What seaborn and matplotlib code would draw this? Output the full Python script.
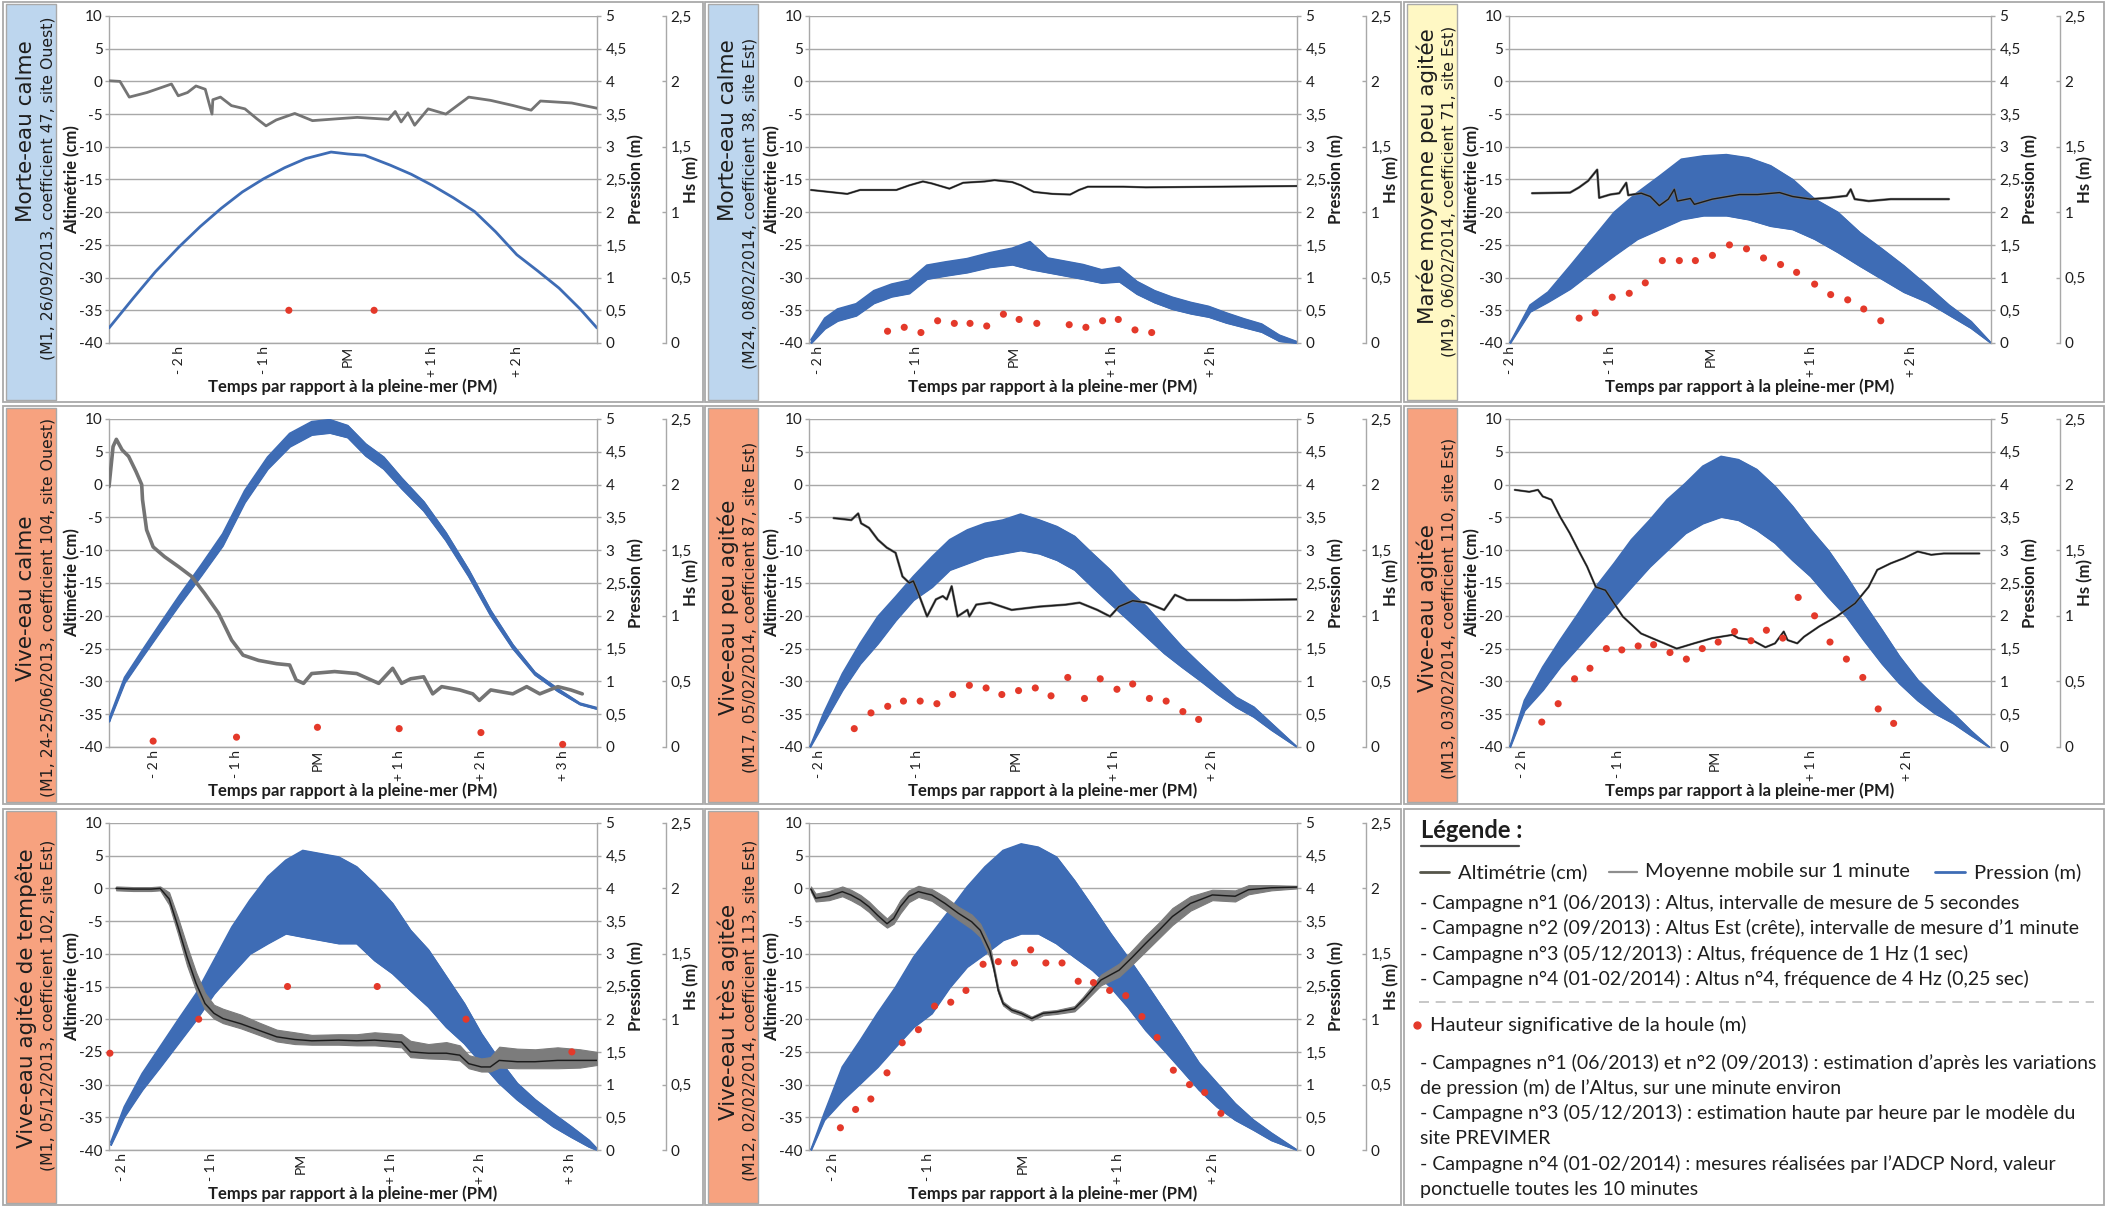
import matplotlib
matplotlib.use("Agg")
import matplotlib.pyplot as plt
import seaborn as sns
from matplotlib.ticker import FuncFormatter
from matplotlib.patches import Rectangle
from matplotlib.lines import Line2D

# ------------------------------------------------------------------ data
# time axis: hours relative to high tide (PM); Pression in m, Altimetrie in cm, Hs in m
HOUR_LABELS = {-2: "- 2 h", -1: "- 1 h", 0: "PM", 1: "+ 1 h", 2: "+ 2 h", 3: "+ 3 h"}

# Panel 1 : Morte-eau calme (M1, 26/09/2013)
P1_XLIM = (-2.83, 2.95)
P1_HOURS = [-2, -1, 0, 1, 2]
P1_PRES_T = [-2.83, -2.54, -2.28, -2.00, -1.75, -1.50, -1.25, -1.00, -0.75, -0.50, -0.20, 0.00,
             0.20, 0.50, 0.75, 1.00, 1.25, 1.50, 1.75, 2.00, 2.25, 2.50, 2.75, 2.95]
P1_PRES = [0.23, 0.69, 1.09, 1.47, 1.78, 2.06, 2.31, 2.51, 2.68, 2.82, 2.92, 2.89,
           2.87, 2.72, 2.58, 2.41, 2.22, 2.01, 1.70, 1.35, 1.10, 0.84, 0.52, 0.23]
P1_ALT_T = [-2.83, -2.70, -2.59, -2.38, -2.09, -2.01, -1.90, -1.80, -1.69, -1.61, -1.60, -1.51,
            -1.38, -1.22, -1.08, -0.97, -0.85, -0.63, -0.42, -0.11, 0.11, 0.48, 0.56, 0.63,
            0.71, 0.79, 0.95, 1.16, 1.43, 1.69, 1.96, 2.17, 2.28, 2.65, 2.95]
P1_ALT = [0.1, 0.0, -2.4, -1.7, -0.4, -2.2, -1.7, -0.7, -1.2, -5.0, -2.8, -2.4,
          -3.7, -4.2, -5.7, -6.8, -5.9, -4.9, -6.0, -5.7, -5.5, -5.8, -4.6, -6.2,
          -4.8, -6.7, -4.2, -5.0, -2.4, -2.9, -3.7, -4.4, -3.0, -3.3, -4.1]
P1_HS_T = [-0.70, 0.31]
P1_HS = [0.25, 0.25]

# Panel 2 : Morte-eau calme (M24, 08/02/2014)
P2_XLIM = (-2.09, 2.88)
P2_HOURS = [-2, -1, 0, 1, 2]
P2_PRES_T = [-2.07, -1.93, -1.80, -1.61, -1.43, -1.25, -1.07, -0.89, -0.70, -0.48, -0.25, -0.02, 0.16, 0.34,
             0.52, 0.70, 0.89, 1.07, 1.25, 1.43, 1.61, 1.80, 1.98, 2.16, 2.34, 2.52, 2.70, 2.88]
P2_PRES_LO = [0.0, 0.22, 0.34, 0.42, 0.61, 0.71, 0.76, 0.98, 1.03, 1.08, 1.16, 1.20, 1.13, 1.08,
              1.03, 0.98, 0.92, 0.94, 0.75, 0.62, 0.52, 0.45, 0.40, 0.31, 0.24, 0.17, 0.03, 0.0]
P2_PRES_HI = [0.05, 0.38, 0.52, 0.60, 0.80, 0.90, 0.96, 1.19, 1.24, 1.29, 1.38, 1.45, 1.55, 1.30,
              1.25, 1.20, 1.12, 1.16, 0.94, 0.80, 0.70, 0.62, 0.56, 0.46, 0.37, 0.29, 0.12, 0.02]
P2_ALT_T = [-2.07, -1.70, -1.57, -1.20, -1.07, -0.93, -0.84, -0.66, -0.52, -0.30, -0.20, -0.02, 0.07,
            0.20, 0.39, 0.57, 0.66, 0.75, 1.11, 1.34, 2.88]
P2_ALT = [-16.6, -17.2, -16.6, -16.6, -15.9, -15.3, -15.6, -16.4, -15.5, -15.3, -15.1, -15.4, -15.9,
          -16.9, -17.2, -17.3, -16.6, -16.1, -16.1, -16.2, -16.0]
P2_HS_T = [-1.29, -1.12, -0.95, -0.78, -0.61, -0.45, -0.28, -0.11, 0.05, 0.23, 0.56, 0.73, 0.90, 1.06, 1.23, 1.40]
P2_HS = [0.09, 0.12, 0.08, 0.17, 0.15, 0.15, 0.13, 0.22, 0.18, 0.15, 0.14, 0.12, 0.17, 0.18, 0.10, 0.08]

# Panel 3 : Maree moyenne peu agitee (M19, 06/02/2014)
P3_XLIM = (-2.01, 2.80)
P3_HOURS = [-2, -1, 0, 1, 2]
P3_PRES_T = [-2.00, -1.80, -1.62, -1.40, -1.18, -0.96, -0.73, -0.51, -0.29, -0.07, 0.16, 0.38,
             0.60, 0.82, 1.04, 1.27, 1.49, 1.71, 1.93, 2.16, 2.38, 2.60, 2.80]
P3_PRES_HI = [0.0, 0.58, 0.78, 1.18, 1.59, 2.00, 2.30, 2.55, 2.81, 2.86, 2.88, 2.83,
              2.71, 2.50, 2.20, 2.00, 1.69, 1.44, 1.18, 0.88, 0.58, 0.33, 0.0]
P3_PRES_LO = [0.0, 0.48, 0.63, 0.83, 1.09, 1.34, 1.59, 1.74, 1.89, 1.95, 1.95, 1.89,
              1.79, 1.74, 1.59, 1.39, 1.18, 0.98, 0.78, 0.63, 0.43, 0.23, 0.0]
P3_ALT_T = [-1.78, -1.40, -1.31, -1.22, -1.13, -1.11, -1.00, -0.91, -0.84, -0.82, -0.69, -0.60, -0.51,
            -0.42, -0.36, -0.33, -0.20, -0.16, 0.02, 0.29, 0.47, 0.69, 0.82, 1.00, 1.18, 1.36, 1.40,
            1.44, 1.58, 1.80, 2.02, 2.38]
P3_ALT = [-17.1, -17.0, -16.2, -15.2, -13.5, -17.8, -17.3, -17.1, -15.5, -17.4, -17.1, -17.6, -19.0,
          -18.0, -16.5, -18.3, -17.9, -18.8, -18.0, -17.3, -17.3, -17.0, -17.6, -18.0, -17.8, -17.5, -16.5,
          -18.0, -18.3, -18.0, -18.0, -18.0]
P3_HS_T = [-1.31, -1.15, -0.98, -0.81, -0.65, -0.48, -0.31, -0.15, 0.02, 0.19, 0.36, 0.53, 0.70, 0.86,
           1.04, 1.20, 1.37, 1.53, 1.70]
P3_HS = [0.19, 0.23, 0.35, 0.38, 0.46, 0.63, 0.63, 0.63, 0.67, 0.75, 0.72, 0.65, 0.60, 0.54,
         0.45, 0.37, 0.33, 0.26, 0.17]

# Panel 4 : Vive-eau calme (M1, 24-25/06/2013)
P4_XLIM = (-2.55, 3.42)
P4_HOURS = [-2, -1, 0, 1, 2, 3]
P4_PRES_T = [-2.55, -2.36, -2.14, -1.92, -1.69, -1.42, -1.16, -0.89, -0.61, -0.34, -0.07, 0.15, 0.37,
             0.59, 0.81, 1.03, 1.30, 1.57, 1.85, 2.12, 2.39, 2.66, 2.94, 3.21, 3.42]
P4_PRES_LO = [0.39, 0.98, 1.38, 1.77, 2.17, 2.62, 3.07, 3.73, 4.24, 4.58, 4.76, 4.79, 4.72,
              4.44, 4.24, 3.94, 3.60, 3.15, 2.60, 2.00, 1.50, 1.10, 0.85, 0.65, 0.58]
P4_PRES_HI = [0.43, 1.06, 1.48, 1.89, 2.31, 2.78, 3.25, 3.91, 4.42, 4.78, 4.96, 4.99, 4.90,
              4.62, 4.42, 4.10, 3.74, 3.27, 2.70, 2.08, 1.56, 1.14, 0.89, 0.67, 0.60]
P4_ALT_T = [-2.55, -2.50, -2.46, -2.39, -2.31, -2.22, -2.15, -2.14, -2.09, -2.01, -1.87, -1.70, -1.54,
            -1.38, -1.21, -1.05, -0.91, -0.72, -0.50, -0.34, -0.26, -0.17, -0.07, 0.21, 0.48, 0.75,
            0.92, 1.03, 1.14, 1.30, 1.41, 1.52, 1.74, 1.90, 1.98, 2.12, 2.39, 2.56, 2.72, 2.94, 3.10, 3.24]
P4_ALT = [-0.3, 5.8, 6.9, 5.3, 4.3, 2.0, 0.0, -2.3, -6.9, -9.5, -11.0, -12.5, -14.0,
          -16.6, -19.6, -23.7, -26.0, -26.8, -27.3, -27.5, -29.8, -30.3, -28.8, -28.5, -28.8, -30.3,
          -28.0, -30.3, -29.6, -29.3, -31.9, -30.8, -31.3, -31.9, -32.9, -31.3, -31.9, -30.8, -31.9, -30.8, -31.3, -31.9]
P4_HS_T = [-2.01, -0.99, 0.0, 1.0, 2.0, 3.0]
P4_HS = [0.045, 0.075, 0.15, 0.14, 0.11, 0.02]

# Panel 5 : Vive-eau peu agitee (M17, 05/02/2014)
P5_XLIM = (-2.10, 2.86)
P5_HOURS = [-2, -1, 0, 1, 2]
P5_PRES_T = [-2.09, -1.95, -1.76, -1.58, -1.40, -1.22, -1.04, -0.85, -0.67, -0.49, -0.31, -0.13, 0.05, 0.24,
             0.42, 0.60, 0.78, 0.96, 1.15, 1.33, 1.51, 1.69, 1.87, 2.05, 2.24, 2.42, 2.60, 2.86]
P5_PRES_HI = [0.0, 0.52, 1.12, 1.58, 1.99, 2.29, 2.60, 2.90, 3.16, 3.31, 3.41, 3.46, 3.55, 3.46,
              3.36, 3.21, 2.95, 2.70, 2.39, 2.14, 1.83, 1.53, 1.27, 1.02, 0.76, 0.61, 0.36, 0.0]
P5_PRES_LO = [0.0, 0.37, 0.87, 1.27, 1.58, 1.93, 2.24, 2.44, 2.70, 2.80, 2.90, 2.95, 3.00, 2.95,
              2.85, 2.70, 2.44, 2.19, 1.93, 1.68, 1.43, 1.22, 1.02, 0.81, 0.61, 0.46, 0.26, 0.0]
P5_ALT_T = [-1.85, -1.67, -1.60, -1.57, -1.49, -1.40, -1.31, -1.22, -1.15, -1.08, -1.04, -0.99, -0.90,
            -0.81, -0.74, -0.70, -0.65, -0.59, -0.49, -0.47, -0.40, -0.26, -0.04, 0.24, 0.51, 0.65,
            0.83, 0.96, 1.05, 1.19, 1.33, 1.51, 1.62, 1.74, 2.24, 2.86]
P5_ALT = [-5.1, -5.4, -4.4, -5.9, -6.6, -8.4, -9.6, -10.4, -14.0, -15.0, -14.7, -16.5, -20.1,
          -17.5, -17.0, -17.5, -15.5, -20.1, -19.1, -20.1, -18.3, -18.0, -19.1, -18.6, -18.3, -18.0,
          -19.1, -20.1, -18.6, -17.7, -18.0, -19.1, -16.8, -17.6, -17.6, -17.5]
P5_HS_T = [-1.64, -1.47, -1.30, -1.14, -0.97, -0.80, -0.64, -0.47, -0.30, -0.14, 0.03, 0.20, 0.36, 0.53,
           0.70, 0.86, 1.03, 1.19, 1.36, 1.53, 1.70, 1.86]
P5_HS = [0.14, 0.26, 0.31, 0.35, 0.35, 0.33, 0.40, 0.47, 0.45, 0.40, 0.43, 0.45, 0.39, 0.53,
         0.37, 0.52, 0.44, 0.48, 0.37, 0.35, 0.27, 0.21]

# Panel 6 : Vive-eau agitee (M13, 03/02/2014)
P6_XLIM = (-2.13, 2.87)
P6_HOURS = [-2, -1, 0, 1, 2]
P6_PRES_T = [-2.12, -1.97, -1.78, -1.60, -1.41, -1.23, -1.04, -0.86, -0.67, -0.49, -0.30, -0.12, 0.07, 0.25,
             0.44, 0.63, 0.81, 1.00, 1.18, 1.37, 1.55, 1.74, 1.92, 2.11, 2.29, 2.48, 2.66, 2.85]
P6_PRES_HI = [0.0, 0.71, 1.22, 1.63, 2.04, 2.44, 2.80, 3.16, 3.46, 3.77, 4.02, 4.28, 4.43, 4.38,
              4.23, 3.97, 3.67, 3.31, 3.00, 2.60, 2.19, 1.78, 1.38, 1.02, 0.76, 0.51, 0.25, 0.0]
P6_PRES_LO = [0.0, 0.56, 0.87, 1.22, 1.53, 1.83, 2.14, 2.44, 2.75, 3.00, 3.26, 3.41, 3.51, 3.46,
              3.31, 3.11, 2.85, 2.60, 2.29, 1.99, 1.63, 1.27, 0.97, 0.71, 0.51, 0.36, 0.18, 0.0]
P6_ALT_T = [-2.07, -1.92, -1.83, -1.78, -1.69, -1.60, -1.50, -1.41, -1.32, -1.23, -1.13, -1.04, -0.95,
            -0.76, -0.39, -0.21, -0.02, 0.19, 0.25, 0.39, 0.53, 0.63, 0.72, 0.76, 0.86, 0.93, 1.09,
            1.27, 1.46, 1.60, 1.69, 1.83, 1.97, 2.11, 2.25, 2.38, 2.75]
P6_ALT = [-0.8, -1.1, -0.8, -1.8, -2.3, -4.9, -7.4, -10.0, -12.5, -15.6, -16.1, -18.1, -20.1,
          -22.7, -25.0, -24.2, -23.4, -22.9, -23.4, -23.7, -24.8, -24.2, -22.4, -23.7, -24.2, -23.2, -21.6,
          -20.1, -18.1, -15.6, -13.0, -12.0, -11.2, -10.2, -10.7, -10.5, -10.5]
P6_HS_T = [-1.79, -1.62, -1.45, -1.29, -1.12, -0.96, -0.79, -0.63, -0.46, -0.29, -0.125, 0.04, 0.21, 0.38,
           0.54, 0.71, 0.87, 1.04, 1.20, 1.37, 1.54, 1.70, 1.86]
P6_HS = [0.19, 0.33, 0.52, 0.60, 0.75, 0.74, 0.77, 0.78, 0.72, 0.67, 0.75, 0.80, 0.88, 0.81,
         0.89, 0.83, 1.14, 1.00, 0.80, 0.67, 0.53, 0.29, 0.18]

# Panel 7 : Vive-eau agitee de tempete (M1, 05/12/2013)
P7_XLIM = (-2.14, 3.30)
P7_HOURS = [-2, -1, 0, 1, 2, 3]
P7_PRES_T = [-2.12, -1.97, -1.77, -1.57, -1.37, -1.17, -0.97, -0.77, -0.57, -0.37, -0.17, 0.02, 0.22, 0.42,
             0.62, 0.82, 1.02, 1.22, 1.42, 1.62, 1.82, 2.01, 2.21, 2.41, 2.61, 2.81, 3.01, 3.21, 3.30]
P7_PRES_HI = [0.12, 0.66, 1.17, 1.58, 1.99, 2.39, 2.90, 3.41, 3.82, 4.18, 4.43, 4.58, 4.53, 4.48,
              4.33, 4.07, 3.77, 3.36, 3.06, 2.65, 2.24, 1.78, 1.38, 1.02, 0.77, 0.56, 0.36, 0.15, 0.02]
P7_PRES_LO = [0.08, 0.51, 0.92, 1.27, 1.63, 1.99, 2.39, 2.70, 3.00, 3.16, 3.31, 3.26, 3.21, 3.16,
              3.16, 2.90, 2.70, 2.44, 2.19, 1.88, 1.63, 1.33, 1.02, 0.77, 0.56, 0.36, 0.20, 0.05, 0.0]
P7_ALT_T = [-2.06, -1.87, -1.67, -1.57, -1.47, -1.37, -1.27, -1.17, -1.07, -0.97, -0.87, -0.67, -0.47,
            -0.27, -0.07, 0.12, 0.42, 0.62, 0.82, 1.12, 1.22, 1.42, 1.62, 1.77, 1.87, 2.01, 2.11, 2.21,
            2.41, 2.61, 2.86, 3.11, 3.30]
P7_ALT = [0.0, -0.1, -0.1, 0.0, -1.6, -5.9, -10.5, -14.5, -17.6, -19.1, -19.9, -20.7, -21.7,
          -22.7, -23.1, -23.3, -23.2, -23.3, -23.2, -23.5, -25.0, -25.2, -25.2, -25.5, -26.8, -27.3, -27.3, -26.3,
          -26.5, -26.5, -26.3, -26.3, -26.3]
P7_ALT_HI = [0.3, 0.2, 0.2, 0.3, -0.6, -4.5, -8.8, -12.8, -16.0, -17.8, -18.4, -19.3, -20.5,
             -21.6, -22.0, -22.4, -22.3, -22.3, -22.0, -22.3, -23.3, -23.8, -23.5, -24.0, -25.5, -26.0, -25.8, -24.2,
             -24.5, -24.6, -24.3, -24.6, -25.0]
P7_ALT_LO = [-0.3, -0.4, -0.4, -0.3, -2.5, -7.0, -11.8, -15.6, -18.5, -19.9, -20.6, -21.4, -22.4,
             -23.4, -23.8, -23.9, -23.9, -24.0, -24.0, -24.3, -25.8, -26.0, -26.1, -26.3, -27.5, -28.0, -28.0, -27.4,
             -27.5, -27.5, -27.5, -27.4, -27.0]
P7_HS_T = [-2.13, -1.14, -0.15, 0.85, 1.84, 3.02]
P7_HS = [0.74, 1.0, 1.25, 1.25, 1.0, 0.75]

# Panel 8 : Vive-eau tres agitee (M12, 02/02/2014)
P8_XLIM = (-2.25, 2.88)
P8_HOURS = [-2, -1, 0, 1, 2]
P8_PRES_T = [-2.23, -2.09, -1.90, -1.71, -1.53, -1.34, -1.15, -0.96, -0.77, -0.59, -0.40, -0.21, -0.02, 0.16,
             0.35, 0.54, 0.73, 0.92, 1.10, 1.29, 1.48, 1.67, 1.85, 2.04, 2.23, 2.42, 2.61, 2.88]
P8_PRES_HI = [0.0, 0.56, 1.27, 1.68, 2.09, 2.49, 2.95, 3.31, 3.67, 4.02, 4.33, 4.58, 4.68, 4.63,
              4.48, 4.12, 3.72, 3.31, 2.95, 2.55, 2.14, 1.73, 1.33, 1.02, 0.71, 0.46, 0.26, 0.0]
P8_PRES_LO = [0.0, 0.46, 0.76, 1.02, 1.27, 1.58, 1.88, 2.09, 2.49, 2.80, 3.00, 3.21, 3.31, 3.31,
              3.16, 2.95, 2.75, 2.49, 2.19, 1.83, 1.53, 1.22, 0.92, 0.66, 0.46, 0.31, 0.15, 0.0]
P8_ALT_T = [-2.23, -2.18, -2.04, -1.90, -1.81, -1.71, -1.62, -1.53, -1.43, -1.36, -1.29, -1.20, -1.10,
            -0.96, -0.82, -0.68, -0.54, -0.45, -0.35, -0.31, -0.26, -0.21, -0.12, -0.02, 0.09, 0.21,
            0.35, 0.54, 0.63, 0.82, 1.01, 1.15, 1.29, 1.43, 1.57, 1.76, 1.99, 2.23, 2.37, 2.61, 2.88]
P8_ALT = [-0.1, -1.5, -1.2, -0.5, -1.0, -1.8, -2.8, -4.1, -5.4, -4.6, -2.8, -1.2, -0.5,
          -1.0, -2.3, -3.8, -5.1, -6.4, -9.5, -12.0, -15.6, -17.6, -18.6, -19.1, -19.9, -19.1,
          -18.9, -18.4, -17.1, -14.0, -12.5, -10.5, -8.4, -6.4, -4.3, -2.3, -1.0, -1.2, -0.2, 0.1, 0.2]
P8_ALT_HI = [0.3, -0.8, -0.4, 0.3, -0.2, -1.0, -2.0, -3.3, -4.6, -3.6, -1.8, -0.3, 0.4,
             -0.1, -1.3, -2.8, -4.0, -5.4, -8.5, -11.5, -15.2, -17.3, -18.3, -18.8, -19.6, -18.8,
             -18.6, -18.0, -16.6, -13.2, -11.5, -9.4, -7.2, -5.2, -3.0, -1.2, -0.2, -0.3, 0.5, 0.5, 0.4]
P8_ALT_LO = [-0.5, -2.0, -1.8, -1.2, -1.8, -2.6, -3.6, -4.9, -6.0, -5.4, -3.8, -2.1, -1.3,
             -1.9, -3.3, -4.8, -6.2, -7.4, -10.5, -12.5, -16.0, -17.9, -18.9, -19.4, -20.2, -19.4,
             -19.2, -18.8, -17.6, -14.8, -13.5, -11.6, -9.6, -7.6, -5.6, -3.4, -1.8, -2.0, -0.9, -0.3, 0.0]
P8_HS_T = [-1.92, -1.76, -1.60, -1.43, -1.27, -1.10, -0.93, -0.76, -0.60, -0.42, -0.26, -0.09, 0.08, 0.24,
           0.41, 0.58, 0.74, 0.91, 1.08, 1.25, 1.41, 1.58, 1.75, 1.91, 2.08]
P8_HS = [0.17, 0.31, 0.39, 0.59, 0.82, 0.92, 1.10, 1.13, 1.22, 1.42, 1.44, 1.43, 1.53, 1.43,
         1.43, 1.29, 1.28, 1.22, 1.18, 1.02, 0.86, 0.61, 0.50, 0.44, 0.28]

TITLES = ["Morte-eau calme", "Morte-eau calme", "Marée moyenne peu agitée",
          "Vive-eau calme", "Vive-eau peu agitée", "Vive-eau agitée",
          "Vive-eau agitée de tempête", "Vive-eau très agitée"]
SUBTITLES = ["(M1, 26/09/2013, coefficient 47, site Ouest)",
             "(M24, 08/02/2014, coefficient 38, site Est)",
             "(M19, 06/02/2014, coefficient 71, site Est)",
             "(M1, 24-25/06/2013, coefficient 104, site Ouest)",
             "(M17, 05/02/2014, coefficient 87, site Est)",
             "(M13, 03/02/2014, coefficient 110, site Est)",
             "(M1, 05/12/2013, coefficient 102, site Est)",
             "(M12, 02/02/2014, coefficient 113, site Est)"]
STRIPS = ["blue", "blue", "yellow", "salmon", "salmon", "salmon", "salmon", "salmon"]

LEGEND_SERIES = ["Altimétrie (cm)", "Moyenne mobile sur 1 minute", "Pression (m)"]
LEGEND_LINES_1 = ["- Campagne n°1 (06/2013) : Altus, intervalle de mesure de 5 secondes",
                  "- Campagne n°2 (09/2013) : Altus Est (crête), intervalle de mesure d’1 minute",
                  "- Campagne n°3 (05/12/2013) : Altus, fréquence de 1 Hz (1 sec)",
                  "- Campagne n°4 (01-02/2014) : Altus n°4, fréquence de 4 Hz (0,25 sec)"]
LEGEND_HS = "Hauteur significative de la houle (m)"
LEGEND_LINES_2 = ["- Campagnes n°1 (06/2013) et n°2 (09/2013) : estimation d’après les variations",
                  "de pression (m) de l’Altus, sur une minute environ",
                  "- Campagne n°3 (05/12/2013) : estimation haute par heure par le modèle du",
                  "site PREVIMER",
                  "- Campagne n°4 (01-02/2014) : mesures réalisées par l’ADCP Nord, valeur",
                  "ponctuelle toutes les 10 minutes"]

# ------------------------------------------------------------------ style
sns.set_theme(style="white")
plt.rcParams["font.family"] = ["Lato", "DejaVu Sans"]
plt.rcParams["text.color"] = "#1E1E1E"
plt.rcParams["axes.labelcolor"] = "#1E1E1E"
plt.rcParams["xtick.color"] = "#1E1E1E"
plt.rcParams["ytick.color"] = "#1E1E1E"

BLUE = "#3E6CB5"
ALT_GRAY = "#747474"
MEAN_BLACK = "#1A1A1A"
RED = "#E4392A"
GRID = "#A8A8A8"
STRIP_COLORS = {"blue": "#BDD6EE", "yellow": "#FFF8C4", "salmon": "#F7A27F"}

W, H = 2109, 1207
fig = plt.figure(figsize=(W / 100, H / 100), dpi=100)
fig.patch.set_facecolor("white")


def fx(x):
    return x / W


def fy(y):
    return 1 - y / H


def rect_px(x0, y0, x1, y1, **kw):
    fig.add_artist(Rectangle((fx(x0), fy(y1)), (x1 - x0) / W, (y1 - y0) / H,
                             transform=fig.transFigure, **kw))


def hline_px(x0, x1, y, **kw):
    fig.add_artist(Line2D([fx(x0), fx(x1)], [fy(y), fy(y)], transform=fig.transFigure, **kw))


comma = FuncFormatter(lambda v, p: f"{v:g}".replace(".", ","))
intf = FuncFormatter(lambda v, p: f"{int(round(v))}")

COL_BOX = [(3, 703), (705, 1401), (1404, 2104)]
ROW_BOX = [(2, 402), (406, 804), (809, 1205)]
COL_AX = [(109, 597), (809, 1297), (1509, 1991)]
ROW_AX = [(16, 343), (419, 747), (823, 1150)]
TITLE_Y = [131, 130, 176, 598, 607, 608, 998, 1012]
SUB_Y = [188, 203, 191, 607, 607, 608, 1005, 1010]

PANELS = [
    dict(xlim=P1_XLIM, hours=P1_HOURS, pt=P1_PRES_T, plo=P1_PRES, phi=P1_PRES, pline=True,
         at=P1_ALT_T, alt=P1_ALT, alo=None, ahi=None, alw=2.0, mean=False, ht=P1_HS_T, hs=P1_HS),
    dict(xlim=P2_XLIM, hours=P2_HOURS, pt=P2_PRES_T, plo=P2_PRES_LO, phi=P2_PRES_HI, pline=False,
         at=P2_ALT_T, alt=P2_ALT, alo=None, ahi=None, alw=1.6, mean=True, ht=P2_HS_T, hs=P2_HS),
    dict(xlim=P3_XLIM, hours=P3_HOURS, pt=P3_PRES_T, plo=P3_PRES_LO, phi=P3_PRES_HI, pline=False,
         at=P3_ALT_T, alt=P3_ALT, alo=None, ahi=None, alw=1.8, mean=True, ht=P3_HS_T, hs=P3_HS),
    dict(xlim=P4_XLIM, hours=P4_HOURS, pt=P4_PRES_T, plo=P4_PRES_LO, phi=P4_PRES_HI, pline=False,
         at=P4_ALT_T, alt=P4_ALT, alo=None, ahi=None, alw=2.6, mean=False, ht=P4_HS_T, hs=P4_HS),
    dict(xlim=P5_XLIM, hours=P5_HOURS, pt=P5_PRES_T, plo=P5_PRES_LO, phi=P5_PRES_HI, pline=False,
         at=P5_ALT_T, alt=P5_ALT, alo=None, ahi=None, alw=1.8, mean=True, ht=P5_HS_T, hs=P5_HS),
    dict(xlim=P6_XLIM, hours=P6_HOURS, pt=P6_PRES_T, plo=P6_PRES_LO, phi=P6_PRES_HI, pline=False,
         at=P6_ALT_T, alt=P6_ALT, alo=None, ahi=None, alw=1.6, mean=True, ht=P6_HS_T, hs=P6_HS),
    dict(xlim=P7_XLIM, hours=P7_HOURS, pt=P7_PRES_T, plo=P7_PRES_LO, phi=P7_PRES_HI, pline=False,
         at=P7_ALT_T, alt=P7_ALT, alo=P7_ALT_LO, ahi=P7_ALT_HI, alw=1.5, mean=True, ht=P7_HS_T, hs=P7_HS),
    dict(xlim=P8_XLIM, hours=P8_HOURS, pt=P8_PRES_T, plo=P8_PRES_LO, phi=P8_PRES_HI, pline=False,
         at=P8_ALT_T, alt=P8_ALT, alo=P8_ALT_LO, ahi=P8_ALT_HI, alw=1.5, mean=True, ht=P8_HS_T, hs=P8_HS),
]


def style_right(axx, label, ymax, label_x, outward=0, direction="out"):
    for s in ["top", "left", "bottom"]:
        axx.spines[s].set_visible(False)
    axx.spines["right"].set_color(GRID)
    axx.spines["right"].set_linewidth(1.0)
    if outward:
        axx.spines["right"].set_position(("outward", outward))
    axx.set_ylim(0, ymax)
    axx.set_yticks([i * 0.5 for i in range(int(ymax * 2) + 1)])
    axx.yaxis.set_major_formatter(comma)
    axx.tick_params(axis="y", right=True, left=False, length=3, width=1, color=GRID,
                    direction=direction, labelsize=11, pad=3)
    axx.set_ylabel(label, fontweight="bold", fontsize=12)
    axx.yaxis.set_label_coords(label_x, 0.5)
    axx.tick_params(axis="x", bottom=False, labelbottom=False)


for i, p in enumerate(PANELS):
    r, c = divmod(i, 3)
    bx0, bx1 = COL_BOX[c]
    by0, by1 = ROW_BOX[r]
    rect_px(bx0, by0, bx1, by1, fill=False, ec="#A9A9A9", lw=1.3)
    rect_px(bx0 + 3, by0 + 2, bx0 + 53, by1 - 2, fc=STRIP_COLORS[STRIPS[i]], ec="#A9A9A9", lw=1.0)
    fig.text(fx(bx0 + 23), fy(TITLE_Y[i]), TITLES[i], rotation=90, ha="center", va="center",
             fontsize=15.5, family=["DejaVu Sans"], color="#1E1E1E")
    fig.text(fx(bx0 + 45), fy(SUB_Y[i]), SUBTITLES[i], rotation=90, ha="center", va="center",
             fontsize=11.3, family=["DejaVu Sans"], color="#1E1E1E")

    x0, x1 = COL_AX[c]
    y0, y1 = ROW_AX[r]
    wpx = x1 - x0
    hpx = y1 - y0
    ax = fig.add_axes([fx(x0), fy(y1), wpx / W, hpx / H])
    ax.set_facecolor("white")
    ax.set_xlim(*p["xlim"])
    ax.set_ylim(-40, 10)
    ax.set_yticks(list(range(-40, 11, 5)))
    ax.yaxis.set_major_formatter(intf)
    ax.grid(axis="y", color=GRID, lw=1.0)
    ax.grid(axis="x", visible=False)
    ax.set_axisbelow(True)
    for s in ["top", "right"]:
        ax.spines[s].set_visible(False)
    for s in ["left", "bottom"]:
        ax.spines[s].set_color(GRID)
        ax.spines[s].set_linewidth(1.0)
    ax.tick_params(axis="y", left=True, length=3, width=1, color=GRID, labelsize=11, pad=1.5)
    ax.set_xticks(p["hours"])
    ax.set_xticklabels([HOUR_LABELS[h] for h in p["hours"]], rotation=90)
    ax.tick_params(axis="x", bottom=False, length=0, labelsize=10, pad=2)
    ax.set_ylabel("Altimétrie (cm)", fontweight="bold", fontsize=12)
    ax.yaxis.set_label_coords(-29 / wpx, 0.5)
    ax.set_xlabel("Temps par rapport à la pleine-mer (PM)", fontweight="bold", fontsize=12)
    ax.xaxis.set_label_coords(0.5, -35 / hpx)

    # pressure
    axP = ax.twinx()
    style_right(axP, "Pression (m)", 5, 1 + 31 / wpx)
    if p["pline"]:
        sns.lineplot(x=p["pt"], y=p["plo"], ax=axP, color=BLUE, linewidth=2.0, sort=False, estimator=None)
    else:
        axP.fill_between(p["pt"], p["plo"], p["phi"], color=BLUE, linewidth=1.0, edgecolor=BLUE)
        sns.lineplot(x=p["pt"], y=p["phi"], ax=axP, color=BLUE, linewidth=1.2, sort=False, estimator=None)
        sns.lineplot(x=p["pt"], y=p["plo"], ax=axP, color=BLUE, linewidth=1.2, sort=False, estimator=None)
    axP.set_xlim(*p["xlim"])

    # altimetry layer (above pressure)
    axA = ax.twinx()
    axA.set_ylim(-40, 10)
    axA.set_xlim(*p["xlim"])
    axA.set_axis_off()
    if p["alo"] is not None:
        axA.fill_between(p["at"], p["alo"], p["ahi"], color="#7C7C7C", linewidth=0.8, edgecolor="#7C7C7C")
    sns.lineplot(x=p["at"], y=p["alt"], ax=axA, color=ALT_GRAY, linewidth=p["alw"], sort=False, estimator=None)
    if p["mean"]:
        sns.lineplot(x=p["at"], y=p["alt"], ax=axA, color=MEAN_BLACK, linewidth=1.0, sort=False, estimator=None)

    # Hs
    axH = ax.twinx()
    style_right(axH, "Hs (m)", 2.5, 1 + 86 / wpx, outward=50, direction="in")
    sns.scatterplot(x=p["ht"], y=p["hs"], ax=axH, color=RED, s=26, edgecolor="none", linewidth=0,
                    legend=False, zorder=5, clip_on=False)
    axH.set_xlim(*p["xlim"])
    for a in (axP, axA, axH):
        a.set_xlabel("")

# ------------------------------------------------------------------ legend panel
bx0, bx1 = COL_BOX[2]
by0, by1 = ROW_BOX[2]
rect_px(bx0, by0, bx1, by1, fill=False, ec="#A9A9A9", lw=1.3)
fig.text(fx(1421), fy(831), "Légende :", fontsize=17, fontweight="bold", va="center", ha="left")
hline_px(1421, 1519, 846, color="#4A4A4A", lw=1.6)

row_y = 872
hline_px(1420, 1449, row_y, color="#55554A", lw=2.0)
fig.text(fx(1458), fy(row_y), LEGEND_SERIES[0], fontsize=14.5, va="center", ha="left")
hline_px(1609, 1637, row_y, color="#8E8E8E", lw=1.6)
fig.text(fx(1645), fy(row_y), LEGEND_SERIES[1], fontsize=14.5, va="center", ha="left")
hline_px(1935, 1965, row_y, color=BLUE, lw=2.0)
fig.text(fx(1974), fy(row_y), LEGEND_SERIES[2], fontsize=14.5, va="center", ha="left")

for y, txt in zip([903, 928, 954, 979], LEGEND_LINES_1):
    fig.text(fx(1420), fy(y), txt, fontsize=14, va="center", ha="left")

hline_px(1419, 2094, 1002, color="#BDBDBD", lw=1.2, linestyle=(0, (6, 4)))

fig.add_artist(Line2D([fx(1417)], [fy(1025)], marker="o", markersize=5, color=RED,
                      transform=fig.transFigure, linestyle="none"))
fig.text(fx(1430), fy(1025), LEGEND_HS, fontsize=14.5, va="center", ha="left")

for y, txt in zip([1063, 1088, 1113, 1139, 1164, 1189], LEGEND_LINES_2):
    fig.text(fx(1420), fy(y), txt, fontsize=14, va="center", ha="left")

fig.savefig("out.png", dpi=100, facecolor="white")
